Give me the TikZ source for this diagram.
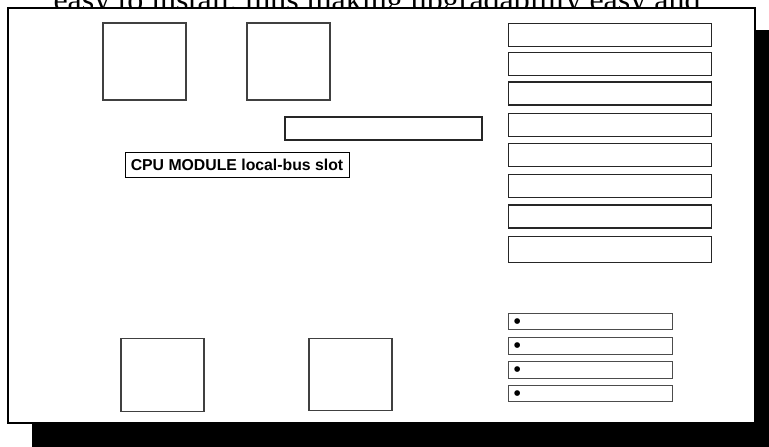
\documentclass[tikz,border=0pt]{standalone}
\usepackage{fontspec}
\setmainfont{Liberation Serif}
\newfontfamily\arialfont{Liberation Sans}
\begin{document}
\begin{tikzpicture}[x=1pt,y=-1pt,
  chip/.style={draw=black!75, line width=1.3pt, fill=white, inner sep=0pt, outer sep=0pt, anchor=north west},
  slotbar/.style={draw=black!85, line width=1.2pt, fill=white, inner sep=0pt, outer sep=0pt, anchor=north west, minimum width=203pt},
  smallbar/.style={draw=black!70, line width=1pt, fill=white, inner sep=0pt, outer sep=0pt, anchor=north west, minimum width=164pt, minimum height=16.5pt},
  dotmark/.style={font=\arialfont\fontsize{21}{21}\selectfont, inner sep=0pt, anchor=base}
]
\useasboundingbox (0,0) rectangle (769,447);
\clip (0,0) rectangle (769,447);
% clipped caption text behind the board
\node[font=\fontsize{32}{32}\selectfont, anchor=base, inner sep=0pt] (cap) at (377,10.5) {easy to install, thus making upgradability easy and};
% shadow
\fill[black] (32,30) rectangle (790,470);
% board
\node[draw=black, line width=1.6pt, fill=white, inner sep=0pt, outer sep=0pt, anchor=north west, minimum width=747pt, minimum height=415pt] (board) at (8,8) {};
% chips top
\node[chip, minimum width=83pt, minimum height=77pt] (chipA) at (103,23) {};
\node[chip, minimum width=83pt, minimum height=77pt] (chipB) at (247,23) {};
% chips bottom
\node[chip, minimum width=83pt, minimum height=73pt] (chipC) at (121,338.5) {};
\node[chip, minimum width=83pt, minimum height=72pt] (chipD) at (309,338.5) {};
% middle bar
\node[slotbar, minimum width=197pt, minimum height=23pt] (midbar) at (285,117) {};
% CPU label
\node[draw=black, line width=1pt, fill=white, anchor=north west, inner sep=0pt, outer sep=0pt, minimum width=224pt, minimum height=25.5pt, font=\arialfont\bfseries\fontsize{15.8}{15.8}\selectfont] (cpu) at (125,152.3) {CPU MODULE local-bus slot};
% slots right
\node[slotbar, minimum height=23pt] (s1) at (508.5,23.3) {};
\node[slotbar, minimum height=23pt] (s2) at (508.5,52.3) {};
\node[slotbar, minimum height=23pt] (s3) at (508.5,82) {};
\node[slotbar, minimum height=23pt] (s4) at (508.5,113.3) {};
\node[slotbar, minimum height=23pt] (s5) at (508.5,143.3) {};
\node[slotbar, minimum height=23.5pt] (s6) at (508.5,174.3) {};
\node[slotbar, minimum height=23pt] (s7) at (508.5,205) {};
\node[slotbar, minimum height=25.5pt] (s8) at (508.5,236.8) {};
% small bullet bars
\node[smallbar] (b1) at (508.5,313.3) {};
\node[smallbar] (b2) at (508.5,337.5) {};
\node[smallbar] (b3) at (508.5,361.7) {};
\node[smallbar] (b4) at (508.5,385.2) {};
\node[dotmark] (d1) at ([xshift=8.7pt,yshift=-6.8pt]b1.west) {\textbullet};
\node[dotmark] (d2) at ([xshift=8.7pt,yshift=-6.8pt]b2.west) {\textbullet};
\node[dotmark] (d3) at ([xshift=8.7pt,yshift=-6.8pt]b3.west) {\textbullet};
\node[dotmark] (d4) at ([xshift=8.7pt,yshift=-6.8pt]b4.west) {\textbullet};
\end{tikzpicture}
\end{document}
